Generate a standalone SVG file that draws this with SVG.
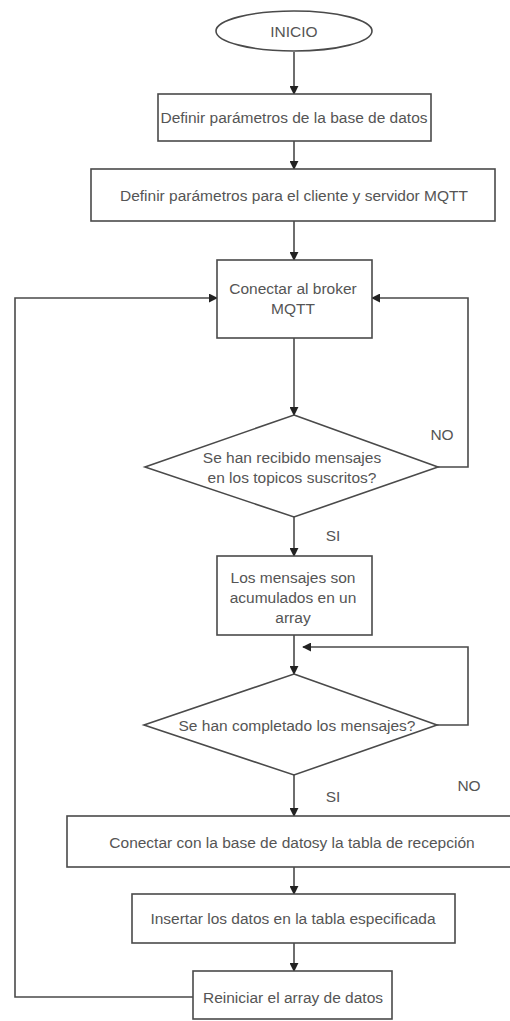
<svg xmlns="http://www.w3.org/2000/svg" width="510" height="1021" viewBox="0 0 510 1021">
  <style>
    .shape { fill: #ffffff; stroke: #4a4a4a; stroke-width: 1.6; }
    .edge { fill: none; stroke: #4a4a4a; stroke-width: 1.6; }
    .label { font-family: "Liberation Sans", Arial, sans-serif; font-size: 15.5px; fill: #555555; text-anchor: middle; dominant-baseline: central; }
  </style>
  <defs>
    <marker id="arrow" viewBox="0 0 10 10" refX="9" refY="5" markerWidth="9" markerHeight="9" markerUnits="userSpaceOnUse" orient="auto">
      <path d="M0,0 L10,5 L0,10 z" fill="#222222"/>
    </marker>
  </defs>
  <rect width="510" height="1021" fill="#ffffff"/>

  <!-- connectors -->
  <g id="connectors">
    <line class="edge" x1="294" y1="52" x2="294" y2="94" stroke="#4f5f72" marker-end="url(#arrow)"/>
    <line class="edge" x1="294" y1="141" x2="294" y2="169" marker-end="url(#arrow)"/>
    <line class="edge" x1="294" y1="221" x2="294" y2="260" marker-end="url(#arrow)"/>
    <line class="edge" x1="294" y1="338" x2="294" y2="415" marker-end="url(#arrow)"/>
    <polyline class="edge" points="438,467 468,467 468,298 372,298" marker-end="url(#arrow)"/>
    <line class="edge" x1="294" y1="517" x2="294" y2="556" marker-end="url(#arrow)"/>
    <line class="edge" x1="294" y1="635" x2="294" y2="674" marker-end="url(#arrow)"/>
    <polyline class="edge" points="437,725 468,725 468,647 303,647" marker-end="url(#arrow)"/>
    <line class="edge" x1="294" y1="775" x2="294" y2="816" marker-end="url(#arrow)"/>
    <line class="edge" x1="294" y1="867" x2="294" y2="894" marker-end="url(#arrow)"/>
    <line class="edge" x1="294" y1="943" x2="294" y2="971" marker-end="url(#arrow)"/>
    <polyline class="edge" points="193,997 15,997 15,298 217,298" marker-end="url(#arrow)"/>
    <text class="label" x="442" y="434">NO</text>
    <text class="label" x="333" y="535">SI</text>
    <text class="label" x="469" y="785">NO</text>
    <text class="label" x="333" y="796">SI</text>
  </g>

  <g id="inicio">
    <ellipse class="shape" cx="294" cy="31" rx="78" ry="20" stroke-width="2.2"/>
    <text class="label" x="294" y="31">INICIO</text>
  </g>

  <g id="definir-bd">
    <rect class="shape" x="158" y="94" width="273" height="47"/>
    <text class="label" x="294" y="117">Definir parámetros de la base de datos</text>
  </g>

  <g id="definir-mqtt">
    <rect class="shape" x="91" y="169" width="404" height="52"/>
    <text class="label" x="294" y="195">Definir parámetros para el cliente y servidor MQTT</text>
  </g>

  <g id="conectar-broker">
    <rect class="shape" x="217" y="260" width="155" height="78"/>
    <text class="label" x="293" y="288">Conectar al broker</text>
    <text class="label" x="293" y="308">MQTT</text>
  </g>

  <g id="recibido">
    <polygon class="shape" points="294,415 438,467 294,517 145,467"/>
    <text class="label" x="292" y="457">Se han recibido mensajes</text>
    <text class="label" x="292" y="477">en los topicos suscritos?</text>
  </g>

  <g id="acumular">
    <rect class="shape" x="217" y="556" width="155" height="79"/>
    <text class="label" x="293" y="577">Los mensajes son</text>
    <text class="label" x="293" y="597">acumulados en un</text>
    <text class="label" x="293" y="617">array</text>
  </g>

  <g id="completado">
    <polygon class="shape" points="294,674 437,725 294,775 144,725"/>
    <text class="label" x="297" y="725">Se han completado los mensajes?</text>
  </g>

  <g id="conectar-bd">
    <rect class="shape" x="67" y="816" width="446" height="51"/>
    <text class="label" x="292" y="842">Conectar con la base de datosy la tabla de recepción</text>
  </g>

  <g id="insertar">
    <rect class="shape" x="132" y="894" width="323" height="49"/>
    <text class="label" x="293" y="918">Insertar los datos en la tabla especificada</text>
  </g>

  <g id="reiniciar">
    <rect class="shape" x="193" y="971" width="199" height="48"/>
    <text class="label" x="293" y="997">Reiniciar el array de datos</text>
  </g>
</svg>
